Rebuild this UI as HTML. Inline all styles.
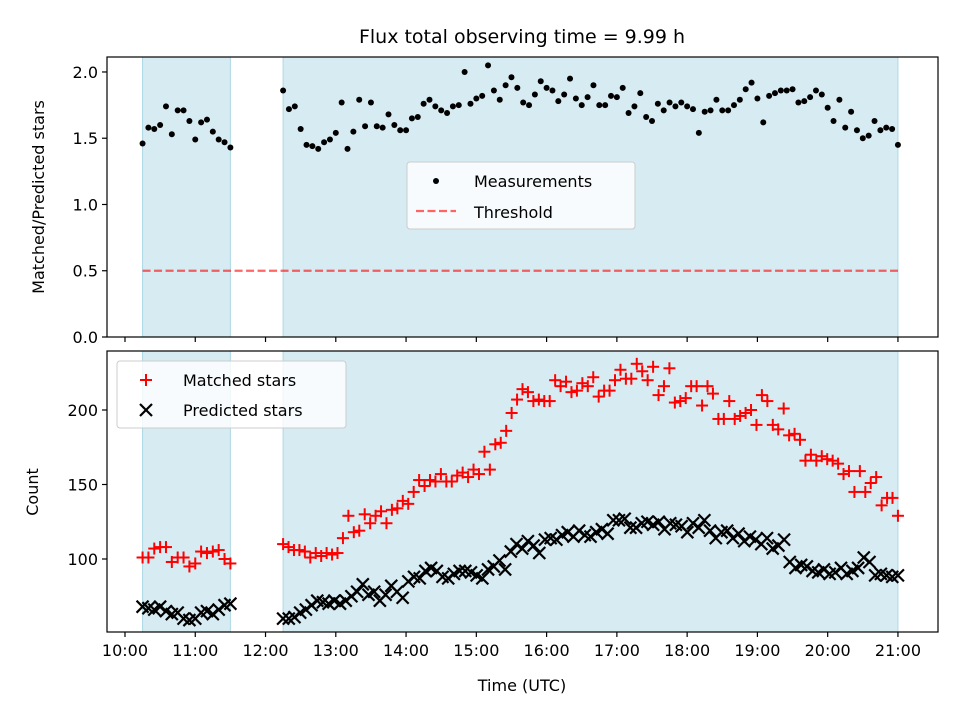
<!DOCTYPE html>
<html><head><meta charset="utf-8"><style>
body{margin:0;background:#fff}
svg{display:block;font-family:"DejaVu Sans","Liberation Sans",sans-serif}
</style></head><body>
<svg id="c" width="960" height="720" viewBox="0 0 960 720"></svg>
<script>
const seg1Start = 10.25, seg1End = 11.5, seg2Start = 12.25, seg2End = 21.0;
const ratio1 = [1.46,1.58,1.57,1.60,1.74,1.53,1.71,1.71,1.63,1.49,1.62,1.64,1.55,1.49,1.47,1.43];
const ratio2 = [1.86,1.72,1.74,1.57,1.45,1.44,1.42,1.47,1.49,1.54,1.77,1.42,1.55,1.79,1.59,1.77,1.59,1.58,1.68,
1.60,1.56,1.56,1.65,1.66,1.76,1.79,1.74,1.71,1.69,1.74,1.75,2.00,1.76,1.80,1.82,2.05,1.86,1.79,1.90,1.96,1.88,1.77,1.75,1.83,1.93,1.88,1.86,1.78,1.83,1.95,1.80,1.75,1.81,1.90,1.75,1.75,1.82,1.81,1.88,1.69,1.74,1.84,1.66,1.63,
1.76,1.71,1.77,1.74,1.77,1.74,1.72,1.54,1.70,1.71,1.79,1.71,1.71,1.75,1.79,1.87,1.92,1.80,1.62,1.82,1.84,1.86,1.86,1.87,1.77,1.78,1.81,1.86,1.83,1.73,1.63,1.79,1.58,1.70,1.56,1.50,1.52,1.63,1.56,1.58,1.57,1.45];
const matched1 = [101,101,107,108,108,98,101,101,95,97,105,104,105,106,100,97];
const matched2 = [110,108,106,106,105,101,104,102,104,103,104,114,129,118,119,130,124,129,132,124,133,134,139,137,145,153,149,153,152,157,152,152,156,158,155,160,157,172,160,177,178,186,198,207,214,212,206,207,206,206,220,216,219,212,213,218,216,222,209,213,213,220,227,221,221,231,226,220,229,210,216,228,205,206,208,216,216,203,216,211,194,194,206,194,196,198,200,190,210,206,190,187,201,183,184,180,166,170,166,169,167,166,164,157,159,145,159,145,151,155,136,141,141,129];
const predicted1 = [68,67,66,68,65,63,64,60,59,60,64,65,63,66,69,70];
const predicted2 = [60,60,61,64,66,69,72,71,70,72,70,72,75,78,83,76,78,72,76,82,78,74,85,88,87,92,94,92,88,87,90,92,92,91,89,87,93,95,99,93,105,110,107,112,109,104,113,114,113,116,118,115,119,116,115,118,120,117,126,126,127,121,121,124,125,123,125,120,124,123,122,118,124,121,126,119,114,118,119,114,117,112,115,113,110,114,107,109,113,98,94,96,95,92,91,93,90,91,94,90,92,94,101,98,89,90,89,88,89];
const threshold = 0.5;
const xTicks = [10,11,12,13,14,15,16,17,18,19,20,21];
const topTicks = [0,0.5,1.0,1.5,2.0];
const botTicks = [100,150,200];

const NS="http://www.w3.org/2000/svg";
const svg=document.getElementById('c');
function el(t,a,p){const e=document.createElementNS(NS,t);for(const k in a)e.setAttribute(k,a[k]);(p||svg).appendChild(e);return e;}
const L=107,R=938;
const X=h=>L+(h-9.744)/(21.57-9.744)*(R-L);
const T={top:57,bot:337,min:0,max:2.113};
const B={top:351,bot:632,min:51,max:239.6};
const Yt=v=>T.bot-(v-T.min)/(T.max-T.min)*(T.bot-T.top);
const Yb=v=>B.bot-(v-B.min)/(B.max-B.min)*(B.bot-B.top);
function times(arr,s,e){return arr.map((_,i)=>s+(e-s)*i/(arr.length-1));}

function panel(P,name){
  const g=el('g',{});
  
  
  [[seg1Start,seg1End],[seg2Start,seg2End]].forEach((s,i)=>{
    const r=el('rect',{x:X(s[0]),y:P.top,width:X(s[1])-X(s[0]),height:P.bot-P.top,fill:'#add8e6','fill-opacity':0.5,stroke:'#add8e6','stroke-width':1},g);
    
    
  });
  return g;
}
function frame(P,name,showX){
  const f=el('rect',{x:L,y:P.top,width:R-L,height:P.bot-P.top,fill:'none',stroke:'#000','stroke-width':1.2});
  
  
  xTicks.forEach(h=>{
    const x=X(h);
    el('line',{x1:x,x2:x,y1:P.bot,y2:P.bot+5,stroke:'#000','stroke-width':1.2});
    if(showX){
      const t=el('text',{x:x,y:P.bot+24,'font-size':16,'text-anchor':'middle'});
      t.textContent=(h<10?'0':'')+h+':00';
      
      
    }
  });
}
// top panel
panel(T,'top-panel');
const th=el('line',{x1:X(seg1Start),x2:X(seg2End),y1:Yt(threshold),y2:Yt(threshold),stroke:'#ff0000','stroke-opacity':0.6,'stroke-width':2.2,'stroke-dasharray':'8,3.5'});


[[ratio1,seg1Start,seg1End],[ratio2,seg2Start,seg2End]].forEach(([arr,s,e])=>{
  const ts=times(arr,s,e);
  arr.forEach((v,i)=>{
    const c=el('circle',{cx:X(ts[i]),cy:Yt(v),r:3,fill:'#000'});
    
    
  });
});
frame(T,'top-axes',false);
topTicks.forEach(v=>{
  const y=Yt(v);
  el('line',{x1:L-5,x2:L,y1:y,y2:y,stroke:'#000','stroke-width':1.2});
  const t=el('text',{x:L-9,y:y+6,'font-size':16,'text-anchor':'end'});
  t.textContent=v.toFixed(1);
  
  
});
// bottom panel
panel(B,'bottom-panel');
function plus(x,y){const g=el('g',{stroke:'#ff0000','stroke-width':2});el('line',{x1:x-6,x2:x+6,y1:y,y2:y},g);el('line',{x1:x,x2:x,y1:y-6,y2:y+6},g);return g;}
function cross(x,y){const g=el('g',{stroke:'#000','stroke-width':2.2});el('line',{x1:x-6,x2:x+6,y1:y-6,y2:y+6},g);el('line',{x1:x-6,x2:x+6,y1:y+6,y2:y-6},g);return g;}
[[predicted1,seg1Start,seg1End],[predicted2,seg2Start,seg2End]].forEach(([arr,s,e])=>{
  const ts=times(arr,s,e);
  arr.forEach((v,i)=>{const g=cross(X(ts[i]),Yb(v));
    
    });
});
[[matched1,seg1Start,seg1End],[matched2,seg2Start,seg2End]].forEach(([arr,s,e])=>{
  const ts=times(arr,s,e);
  arr.forEach((v,i)=>{const g=plus(X(ts[i]),Yb(v));
    
    });
});
frame(B,'bottom-axes',true);
botTicks.forEach(v=>{
  const y=Yb(v);
  el('line',{x1:L-5,x2:L,y1:y,y2:y,stroke:'#000','stroke-width':1.2});
  const t=el('text',{x:L-9,y:y+6,'font-size':16,'text-anchor':'end'});
  t.textContent=v;
  
  
});
// labels
function txt(s,a,name){const t=el('text',a);t.textContent=s;return t;}
txt('Flux total observing time = 9.99 h',{x:522,y:43,'font-size':19,'text-anchor':'middle'},'chart-title');
txt('Time (UTC)',{x:522,y:691,'font-size':16,'text-anchor':'middle'},'x-axis-title');
txt('Matched/Predicted stars',{x:0,y:0,'font-size':16,'text-anchor':'middle',transform:'translate(44,197) rotate(-90)'},'top-y-axis-title');
txt('Count',{x:0,y:0,'font-size':16,'text-anchor':'middle',transform:'translate(38,492) rotate(-90)'},'bottom-y-axis-title');
// legends
const lg1=el('g',{});


el('rect',{x:407,y:162,width:228,height:67,rx:3,fill:'#fff','fill-opacity':0.8,stroke:'#ccc'},lg1);
el('circle',{cx:436,cy:181,r:3,fill:'#000'},lg1);
el('line',{x1:416,x2:456,y1:211,y2:211,stroke:'#ff0000','stroke-opacity':0.6,'stroke-width':2.2,'stroke-dasharray':'8,3.5'},lg1);
const l1=el('text',{x:474,y:187,'font-size':16},lg1);l1.textContent='Measurements';
const l2=el('text',{x:474,y:218,'font-size':16},lg1);l2.textContent='Threshold';
const lg2=el('g',{});


el('rect',{x:117,y:361,width:229,height:67,rx:3,fill:'#fff','fill-opacity':0.8,stroke:'#ccc'},lg2);
lg2.appendChild(plus(146,380));
lg2.appendChild(cross(146,410));
const l3=el('text',{x:183,y:386,'font-size':16},lg2);l3.textContent='Matched stars';
const l4=el('text',{x:183,y:416,'font-size':16},lg2);l4.textContent='Predicted stars';
</script>
</body></html>
